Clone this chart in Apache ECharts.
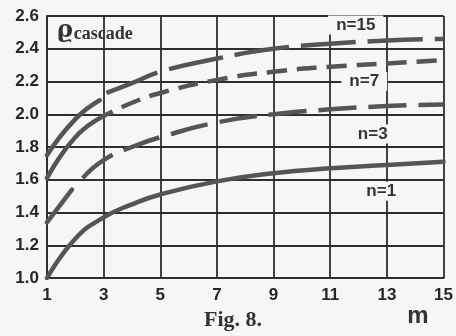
<!DOCTYPE html>
<html>
<head>
<meta charset="utf-8">
<script src="https://cdn.jsdelivr.net/npm/echarts@6/dist/echarts.min.js"></script>
<style>
  html, body { margin: 0; padding: 0; background: #f6f6f4; }
  #chart { width: 456px; height: 336px; }
</style>
</head>
<body>
<div id="chart"></div>
<script>
// values
const mValues = [1, 2, 3, 4, 5, 7, 9, 11, 13, 15];
const rhoN1 = [1.00, 1.24, 1.37, 1.45, 1.51, 1.59, 1.64, 1.67, 1.69, 1.71];
const rhoN3 = [1.34, 1.57, 1.72, 1.80, 1.86, 1.95, 2.00, 2.03, 2.05, 2.06];
const rhoN7 = [1.61, 1.86, 1.99, 2.07, 2.13, 2.21, 2.26, 2.29, 2.31, 2.33];
const rhoN15 = [1.75, 1.97, 2.09, 2.19, 2.26, 2.34, 2.40, 2.43, 2.45, 2.46];
const xTicks = [1, 3, 5, 7, 9, 11, 13, 15];
const curveLabels = [
    { text: 'n=15', at: [11.9, 2.545] },
    { text: 'n=7', at: [12.2, 2.20] },
    { text: 'n=3', at: [12.5, 1.88] },
    { text: 'n=1', at: [12.8, 1.53] }
];

function pairs(ys, from, to) {
    const out = [];
    for (let i = from; i <= to; i++) out.push([mValues[i], ys[i]]);
    return out;
}

document.addEventListener('DOMContentLoaded', function () {
    const chart = echarts.init(document.getElementById('chart'));
    const curveColor = '#555555';
    const gridColor = '#2e2e2e';
    const bg = '#f6f6f4';
    const last = mValues.length - 1;

    function solid(name, data) {
        return {
            name: name, type: 'line', smooth: true, symbol: 'none',
            lineStyle: { width: 4.5, color: curveColor, cap: 'round' },
            data: data
        };
    }
    function dashed(name, data, dash, offset) {
        return {
            name: name, type: 'line', smooth: true, symbol: 'none',
            lineStyle: { width: 4.5, color: curveColor, type: dash, dashOffset: offset || 0 },
            data: data
        };
    }

    const option = {
        animation: false,
        backgroundColor: bg,
        grid: { left: 47, right: 10, top: 16, bottom: 58 },
        xAxis: {
            type: 'value',
            min: 1, max: 15, interval: 2,
            axisLine: { show: true, lineStyle: { color: gridColor, width: 2 } },
            axisTick: { show: false },
            axisLabel: {
                color: '#262626', fontFamily: 'Liberation Sans', fontWeight: 'bold',
                fontSize: 17, margin: 9,
                customValues: xTicks
            },
            splitLine: { show: true, lineStyle: { color: gridColor, width: 1.8 } }
        },
        yAxis: {
            type: 'value',
            min: 1.0, max: 2.6, interval: 0.2,
            axisLine: { show: true, lineStyle: { color: gridColor, width: 2 } },
            axisTick: { show: false },
            axisLabel: {
                color: '#262626', fontFamily: 'Liberation Sans', fontWeight: 'bold',
                fontSize: 17, margin: 8,
                formatter: function (v) { return v.toFixed(1); }
            },
            splitLine: { show: true, lineStyle: { color: gridColor, width: 1.8 } }
        },
        series: [
            solid('n=1', pairs(rhoN1, 0, last)),
            solid('n=3', [[1, rhoN3[0]], [1.88, 1.54]]),
            dashed('n=3', [[2.26, 1.61]].concat(pairs(rhoN3, 2, last)), [38, 12]),
            solid('n=7', pairs(rhoN7, 0, 2)),
            dashed('n=7', pairs(rhoN7, 2, last), [20, 10], 10),
            solid('n=15', pairs(rhoN15, 0, 1).concat([[2.86, 2.085]])),
            dashed('n=15', [[3.1, 2.13]].concat(pairs(rhoN15, 3, last)), [55, 12])
        ]
    };
    chart.setOption(option);

    // curve labels and axis titles
    const graphics = curveLabels.map(function (lb) {
        const p = chart.convertToPixel({ gridIndex: 0 }, lb.at);
        return {
            type: 'text', x: p[0], y: p[1],
            style: {
                text: lb.text, fill: '#333', font: 'bold 17px "Liberation Sans"',
                align: 'center', verticalAlign: 'middle',
                backgroundColor: bg, padding: [1, 8]
            },
            z: 10
        };
    });
    const rhoPos = chart.convertToPixel({ gridIndex: 0 }, [1.35, 2.51]);
    graphics.push({
        type: 'text', x: rhoPos[0], y: rhoPos[1],
        style: {
            text: '{r|ϱ}{s|cascade}',
            verticalAlign: 'middle',
            rich: {
                r: { font: 'bold 24px "DejaVu Serif"', fill: '#333' },
                s: { font: 'bold 18px "Liberation Serif"', fill: '#333', padding: [8, 0, 0, 1] }
            }
        },
        z: 10
    });
    graphics.push({
        type: 'text', x: 233, y: 320,
        style: {
            text: 'Fig. 8.', font: 'bold 22px "Liberation Serif"', fill: '#333',
            align: 'center', verticalAlign: 'middle'
        }
    });
    graphics.push({
        type: 'text', x: 418, y: 316,
        style: {
            text: 'm', font: 'bold 24px "Liberation Sans"', fill: '#333',
            align: 'center', verticalAlign: 'middle'
        }
    });
    chart.setOption({ graphic: graphics });

    window.addEventListener('resize', function () {
        chart.resize();
    });
});
</script>
</body>
</html>
